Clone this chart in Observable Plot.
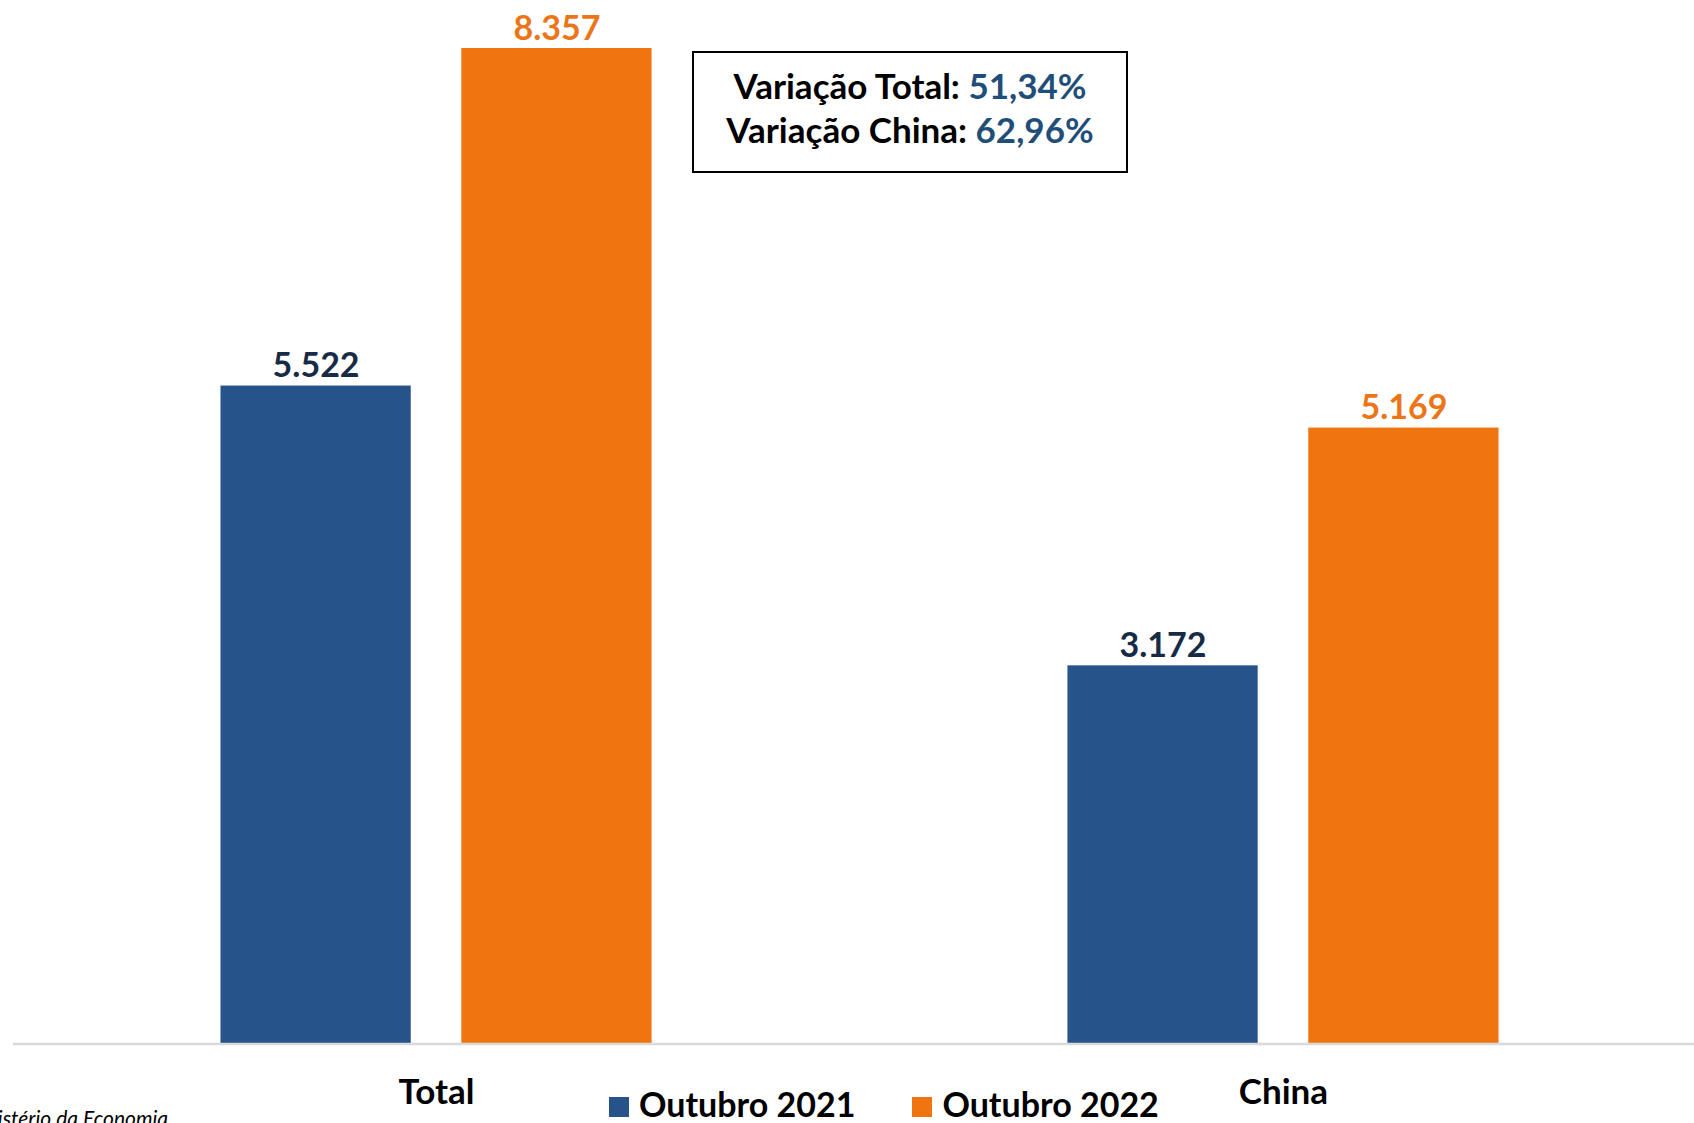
<!DOCTYPE html>
<html><head><meta charset="utf-8">
<script src="https://cdn.jsdelivr.net/npm/d3@7"></script>
<script src="https://cdn.jsdelivr.net/npm/@observablehq/plot@0.6"></script>
<style>
html,body{margin:0;padding:0;background:#fff;}
#wrap{position:relative;width:1694px;height:1123px;overflow:hidden;font-family:Lato,"Open Sans",sans-serif;}
#wrap svg{position:absolute;left:0;top:0;}
#box{position:absolute;left:692px;top:51px;width:436px;height:122px;box-sizing:border-box;border:2.5px solid #000;
  text-align:center;font-weight:bold;font-size:35px;line-height:44px;padding-top:10px;color:#000;white-space:nowrap;}
#box .v{color:#1F4E79;}
#legend{position:absolute;left:609px;top:1084px;display:flex;gap:57px;font-weight:bold;font-size:34px;line-height:40px;color:#000;}
#legend .item{display:flex;align-items:flex-start;}
#legend .sw{width:20px;height:20px;margin-top:13px;margin-right:10px;}
#source{position:absolute;right:1526px;top:1107px;font-style:italic;font-size:21px;line-height:22px;white-space:nowrap;color:#000;}
</style></head><body><div id="wrap"></div>
<script>
const categories = ["Total", "China"];
const seriesNames = ["Outubro 2021", "Outubro 2022"];
const values2021 = [5522, 3172];
const values2022 = [8357, 5169];
const variationLabels = ["Variação Total: ", "Variação China: "];
const variationValues = ["51,34%", "62,96%"];
const barColors = ["#265389", "#F07511"];
const valueLabelColors = ["#172B47", "#EC7518"];
const sourceText = "Fonte: Ministério da Economia";

const data = categories.flatMap((c, i) => [
  {category: c, series: seriesNames[0], value: values2021[i]},
  {category: c, series: seriesNames[1], value: values2022[i]}
]);
const fmt = v => d3.format(",")(v).replace(/,/g, ".");

const plot = Plot.plot({
  width: 1694, height: 1123,
  marginTop: 48, marginBottom: 80, marginLeft: 25, marginRight: 0,
  style: {fontFamily: "Lato, 'Open Sans', sans-serif", background: "transparent"},
  fx: {domain: categories, paddingInner: 0.491, paddingOuter: 0.2308, round: false, axis: null, label: null},
  x: {domain: seriesNames, paddingInner: 0.21, paddingOuter: 0, round: false, axis: null},
  y: {domain: [0, 8357], axis: null},
  color: {domain: seriesNames, range: barColors},
  marks: [
    Plot.barY(data, {fx: "category", x: "series", y: "value", fill: "series"}),
    ...seriesNames.map((s, k) => Plot.text(data.filter(d => d.series === s), {
      fx: "category", x: "series", y: "value", text: d => fmt(d.value),
      fill: valueLabelColors[k], dy: -9, lineAnchor: "bottom", fontSize: 34, fontWeight: "bold"
    })),
    Plot.text(categories, {fx: d => d, text: d => d, frameAnchor: "bottom", dy: 60,
      lineAnchor: "bottom", fontSize: 35, fontWeight: "bold", fill: "#000"})
  ]
});

// baseline (category axis line) drawn from the plot's own y scale
const y0 = plot.scale("y").apply(0);
d3.select(plot).append("line")
  .attr("x1", 13).attr("x2", 1694).attr("y1", y0 + 1).attr("y2", y0 + 1)
  .attr("stroke", "#D9D9D9").attr("stroke-width", 2.5);

const wrap = document.getElementById("wrap");
wrap.appendChild(plot);

// annotation box
const box = document.createElement("div");
box.id = "box";
box.innerHTML = variationLabels.map((l, i) => `<div>${l}<span class="v">${variationValues[i]}</span></div>`).join("");
wrap.appendChild(box);

// legend
const legend = document.createElement("div");
legend.id = "legend";
legend.innerHTML = seriesNames.map((s, i) =>
  `<div class="item"><span class="sw" style="background:${barColors[i]}"></span><span>${s}</span></div>`).join("");
wrap.appendChild(legend);

// source
const src = document.createElement("div");
src.id = "source";
src.textContent = sourceText;
wrap.appendChild(src);
</script>
</body></html>
